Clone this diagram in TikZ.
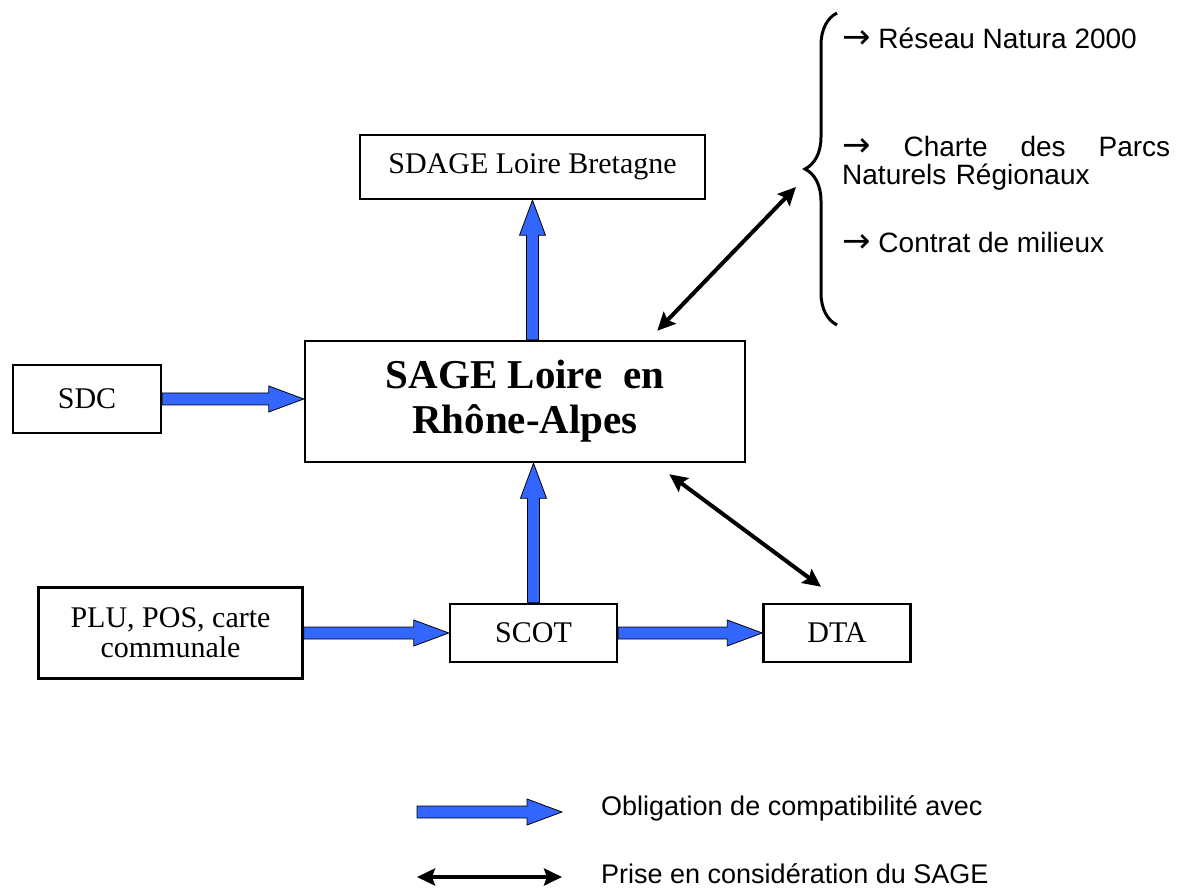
\documentclass[tikz,border=0pt]{standalone}
\usepackage{fontspec}
\setmainfont{Liberation Serif}
\setsansfont{Liberation Sans}
\newfontfamily\arrowfont{DejaVu Sans}
\usetikzlibrary{
        arrows.meta,
        calc,
        decorations.pathreplacing,
        positioning
    }
\definecolor{compblue}{RGB}{51,102,255}
\tikzset{
  doc/.style={draw,line width=2.5pt,inner sep=0pt,align=center,font=\fontsize{30}{30}\selectfont},
  compat/.style={fill=compblue,draw=black,line width=0.8pt},
  consid/.style={{Stealth[length=18pt,width=17pt,inset=3pt]}-{Stealth[length=18pt,width=17pt,inset=3pt]},line width=4pt},
  side/.style={anchor=west,inner sep=0pt,font=\sffamily\fontsize{28}{27.5}\selectfont},
  legtext/.style={anchor=west,inner sep=0pt,font=\sffamily\fontsize{27}{27}\selectfont}
}
\newcommand{\ra}{{\arrowfont\fontsize{34}{27.5}\selectfont →}}
% fat blue arrow from #1 to #2
\newcommand{\comparrow}[2]{%
  \path (#1) coordinate (cfrom) (#2) coordinate (cto);
  \path ($(cto)!35pt!(cfrom)$) coordinate (chead);
  \filldraw[compat] ($(cfrom)!6pt!90:(cto)$) -- ($(chead)!6pt!-90:(cfrom)$)
    -- ($(chead)!13pt!-90:(cfrom)$) -- (cto) -- ($(chead)!13pt!90:(cfrom)$)
    -- ($(chead)!6pt!90:(cfrom)$) -- ($(cfrom)!6pt!-90:(cto)$) -- cycle;
}
\begin{document}
\begin{tikzpicture}[x=1pt,y=-1pt]
                        \useasboundingbox (0,0) rectangle (1178,890);
                        \node[doc,minimum width=440pt,minimum height=121pt,font=\bfseries\fontsize{41}{45}\selectfont] (sage) at (525,401.5) {SAGE Loire \ en\\Rhône-Alpes};
                        \node[doc,minimum width=345pt,minimum height=64pt] (sdage) at (532.5,167) {SDAGE Loire Bretagne};
                        \node[doc,minimum width=148pt,minimum height=68pt] (sdc) at (87,399) {SDC};
                        \node[doc,minimum width=167pt,minimum height=58pt] (scot) at (533.5,633) {SCOT};
                        \node[doc,minimum width=264pt,minimum height=91pt] (plu) [left=145pt of scot] {PLU, POS, carte\\communale};
                        \node[doc,minimum width=147pt,minimum height=58pt] (dta) [right=144pt of scot] {DTA};
                        \comparrow{sdc.east}{sdc.east -| sage.west}
                        \comparrow{sdage.south |- sage.north}{sdage.south}
                        \comparrow{scot.north}{scot.north |- sage.south}
                        \comparrow{plu.east |- scot.west}{scot.west}
                        \comparrow{scot.east}{dta.west}
                        % brace and the related documents
                        \coordinate (bracetop) at (837,13);
                        \coordinate (bracebot) at (837,325);
                        \coordinate (bracetip) at (805,169);
                        \draw[line width=3pt,decorate,decoration={brace,amplitude=32pt}] (bracebot) -- (bracetop);
                        \node[side] (natura) at (842,38) {\ra{} Réseau Natura 2000};
                        \node[side,text width=328pt,align=left] (charte) at (842,163.5) {\ra\hfill Charte\hfill des\hfill Parcs\\Naturels Régionaux};
                        \node[side] (contrat) at (842,242) {\ra{} Contrat de milieux};
                        \coordinate (topend) at ($(bracetip)+(-9,18)$);
                        \coordinate (sagetop) at ($(sage.north east)+(-89,-9)$);
                        \coordinate (sagebot) at ($(sage.south east)+(-77,11)$);
                        \coordinate (dtatop) at ($(dta.north)+(-16,-16)$);
                        \draw[consid] (sagetop) -- (topend);
                        \draw[consid] (sagebot) -- (dtatop);
                        % legend
                        \node[legtext] (oblig) at (601,808) {Obligation de compatibilité avec};
                        \node[legtext] (prise) at (601,874) {Prise en considération du SAGE};
                        \coordinate (compA) at (417,812);
                        \coordinate (compB) at (562,812);
                        \coordinate (consA) at (417,877);
                        \coordinate (consB) at (562,877);
                        \comparrow{compA}{compB}
                        \draw[consid] (consA) -- (consB);
                    \end{tikzpicture}
\end{document}
